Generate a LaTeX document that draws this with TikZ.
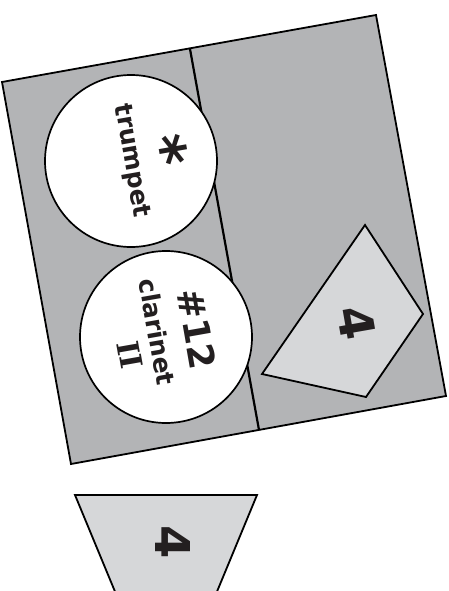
\documentclass[tikz,border=0pt]{standalone}
\usepackage{fontspec}
\setmainfont{DejaVu Sans}
\newfontfamily\romanfont{DejaVu Serif}
\usetikzlibrary{positioning}
\definecolor{panelgray}{RGB}{179,180,182}
\definecolor{tilegray}{RGB}{214,215,217}
\definecolor{inkblack}{RGB}{35,31,32}

\begin{document}
\begin{tikzpicture}[x=1pt, y=-1pt,
    outline/.style={draw=black, line width=1.8pt, line join=miter},
    disc/.style={draw=black, line width=1.7pt, circle, fill=white, minimum size=172pt, inner sep=0pt},
    tag/.style={text=inkblack, inner sep=0pt, rotate=#1},
    tag/.default=-80]
  \useasboundingbox (0,0) rectangle (448,591);

  % Stage and its middle line
  \coordinate (stageNW) at (2,82);
  \coordinate (stageNE) at (376,15);
  \coordinate (stageSE) at (446,396);
  \coordinate (stageSW) at (71,464);
  \coordinate (splitN) at (190,49);
  \coordinate (splitS) at (259,430);
  \draw[outline, fill=panelgray] (stageNW) -- (stageNE) -- (stageSE) -- (stageSW) -- cycle;
  \draw[line width=2.2pt] (splitN) -- (splitS);

  % Players
  \node[disc] (trumpetdisc) at (131,161) {};
  \node[disc] (clarinetdisc) at (166,337) {};
  \node[tag, font=\bfseries\fontsize{25}{25}\selectfont] (trumpetname) at (trumpetdisc) {trumpet};
  \node[tag, font=\bfseries\fontsize{60}{60}\selectfont] (trumpetmark) at (165,151) {*};
  \node[tag, font=\bfseries\fontsize{36}{36}\selectfont] (clarinetnum) at (197,329) {\#12};
  \node[tag, font=\bfseries\fontsize{25}{25}\selectfont] (clarinetname) at (157,332) {clarinet};
  \node[tag, font=\romanfont\bfseries\fontsize{30}{30}\selectfont] (clarinetpart) at (130,355) {II};

  % Risers
  \draw[outline, fill=tilegray] (262,374) -- (365,225) -- (423,314) -- (366,397) -- cycle;
  \node[tag, font=\bfseries\fontsize{48}{48}\selectfont] (stagefour) at (357,323) {4};
  \draw[outline, fill=tilegray] (75,495) -- (257,495) -- (216,594) -- (116,594) -- cycle;
  \node[tag=-90, font=\bfseries\fontsize{48}{48}\selectfont] (floorfour) at (173,542) {4};
\end{tikzpicture}
\end{document}
